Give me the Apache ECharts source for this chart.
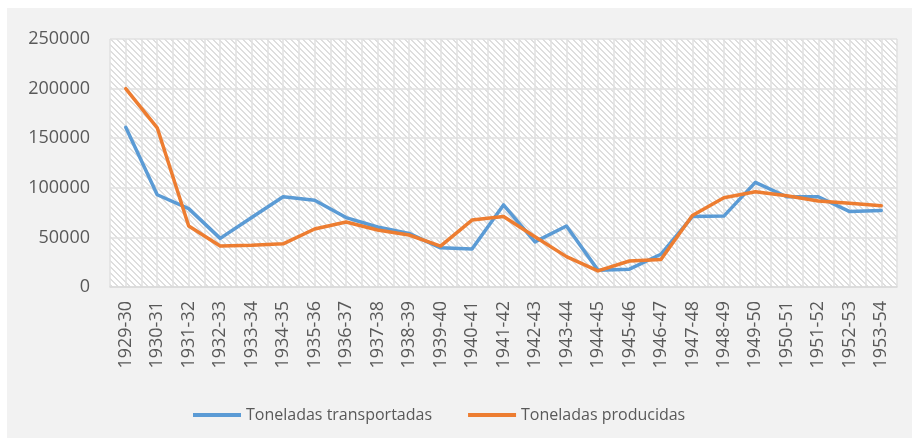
<!DOCTYPE html>
<html>
<head>
<meta charset="utf-8">
<script src="https://cdn.jsdelivr.net/npm/echarts@6/dist/echarts.min.js"></script>
<style>
	html, body { margin: 0; padding: 0; background: #fff; }
	#main { position: absolute; left: 7px; top: 8px; width: 905px; height: 430px; background: #f2f2f2; }
</style>
</head>
<body>
<div id="main"></div>
<script>
// 数据
var categories = ['1929-30', '1930-31', '1931-32', '1932-33', '1933-34', '1934-35', '1935-36', '1936-37', '1937-38', '1938-39', '1939-40', '1940-41', '1941-42', '1942-43', '1943-44', '1944-45', '1945-46', '1946-47', '1947-48', '1948-49', '1949-50', '1950-51', '1951-52', '1952-53', '1953-54'];
var transportadas = [161000, 93000, 79000, 49000, 70000, 91000, 87500, 70000, 60500, 54000, 39500, 38300, 82700, 45500, 61500, 17000, 18000, 33000, 71000, 71500, 105500, 91000, 91000, 76000, 77000];
var producidas = [200000, 160500, 61500, 41300, 42000, 43500, 58500, 65500, 57500, 52400, 41300, 67500, 71000, 50700, 30600, 16200, 26200, 27800, 72000, 90000, 96000, 92000, 86700, 84500, 82000];
var yTicks = [0, 50000, 100000, 150000, 200000, 250000];
var seriesNames = ['Toneladas transportadas', 'Toneladas producidas'];
var seriesColors = ['#5b9bd5', '#ed7d31'];

// 斜线底纹
function makeHatch() {
	var size = 6;
	var c = document.createElement('canvas');
	c.width = size;
	c.height = size;
	var ctx = c.getContext('2d');
	ctx.fillStyle = '#ffffff';
	ctx.fillRect(0, 0, size, size);
	ctx.fillStyle = '#dedede';
	for (var y = 0; y < size; y++) {
		ctx.fillRect(y, y, 2, 1);
		if (y === size - 1) ctx.fillRect(0, y, 1, 1);
	}
	return c;
}

var myChart = echarts.init(document.getElementById('main'));
var font = '"Open Sans", "Noto Sans", sans-serif';

var option = {
	backgroundColor : '#f2f2f2',
	animation : false,
	legend : {
		top : 391,
		left : 181,
		icon : 'rect',
		itemWidth : 48,
		itemHeight : 4,
		itemGap : 36,
		selectedMode : false,
		data : seriesNames,
		textStyle : {
			color : '#595959',
			fontSize : 16,
			lineHeight : 22,
			fontFamily : font
		}
	},
	grid : {
		left : 103,
		right : 15,
		top : 31,
		bottom : 151,
		show : true,
		borderWidth : 0,
		backgroundColor : { image : makeHatch(), repeat : 'repeat' }
	},
	xAxis : [
		{
			type : 'category',
			data : categories,
			boundaryGap : true,
			axisLine : { lineStyle : { color : '#d9d9d9', width : 1.5 } },
			axisTick : { show : false },
			splitLine : { show : false },
			axisLabel : {
				interval : 0,
				rotate : 90,
				margin : 14,
				color : '#595959',
				fontSize : 18,
				fontFamily : font
			}
		},
		{
			// 竖向网格线（每半个类目一条）
			type : 'value',
			min : 0,
			max : categories.length * 2,
			interval : 1,
			position : 'top',
			axisLine : { show : false },
			axisTick : { show : false },
			axisLabel : { show : false },
			splitLine : { show : true, lineStyle : { color : '#e0e0e0', width : 1.5 } }
		}
	],
	yAxis : {
		type : 'value',
		min : yTicks[0],
		max : yTicks[yTicks.length - 1],
		interval : yTicks[1] - yTicks[0],
		axisLine : { show : false },
		axisTick : { show : false },
		axisLabel : {
			margin : 20,
			color : '#595959',
			fontSize : 18,
			fontFamily : font,
			formatter : function(v) { return String(v); }
		},
		splitLine : { lineStyle : { color : '#e0e0e0', width : 1.5 } }
	},
	series : [
		{
			name : seriesNames[0],
			type : 'line',
			data : transportadas,
			symbol : 'none',
			color : seriesColors[0],
			lineStyle : { width : 3.5, cap : 'round', join : 'round' }
		},
		{
			name : seriesNames[1],
			type : 'line',
			data : producidas,
			symbol : 'none',
			color : seriesColors[1],
			lineStyle : { width : 3.5, cap : 'round', join : 'round' }
		}
	]
};
myChart.setOption(option, true);
</script>
</body>
</html>
